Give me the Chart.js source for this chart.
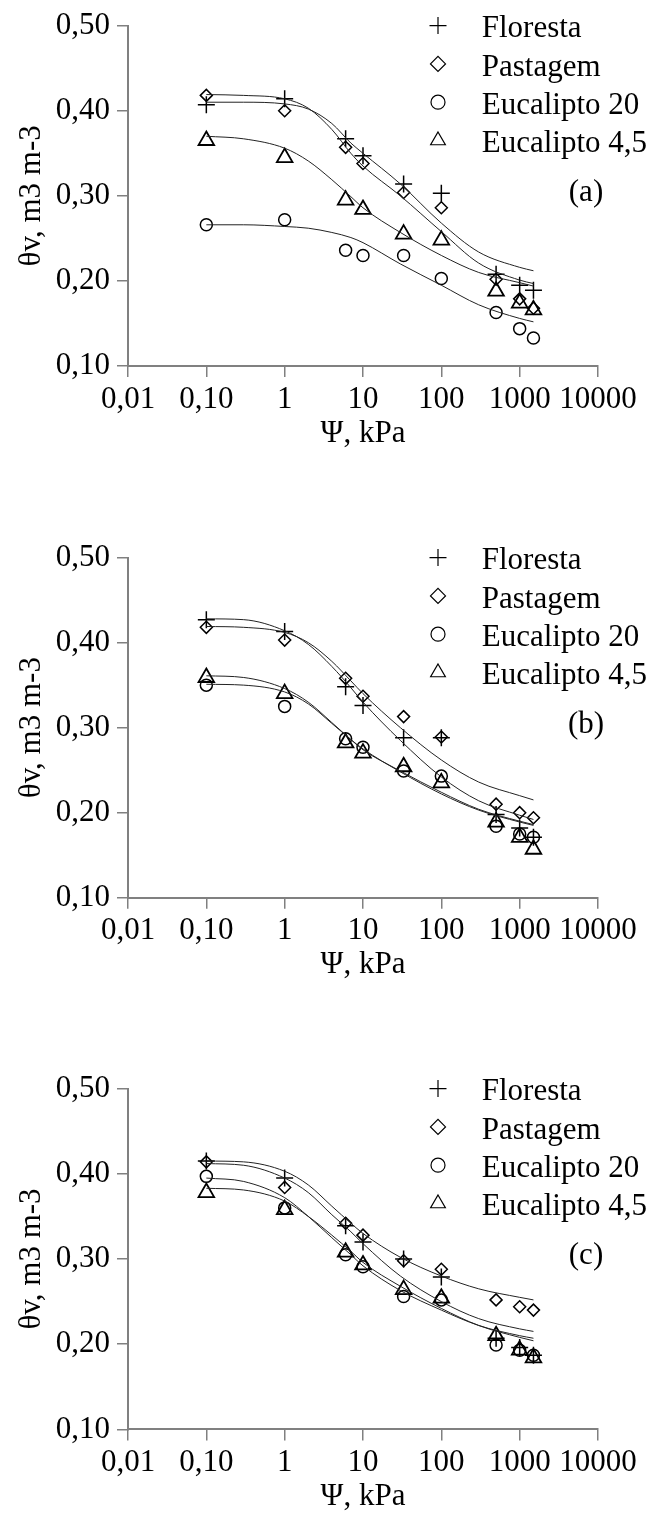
<!DOCTYPE html>
<html>
<head>
<meta charset="utf-8">
<script src="https://cdn.jsdelivr.net/npm/chart.js@4.4.1/dist/chart.umd.min.js"></script>
<style>
  html, body { margin: 0; padding: 0; background: #fff; }
  #wrap { position: relative; width: 655px; height: 1517px; overflow: hidden; }
  canvas { position: absolute; left: 0; }
</style>
</head>
<body>
<div id="wrap">
  <canvas id="chartA" width="655" height="532" style="top:0px"></canvas>
  <canvas id="chartB" width="655" height="532" style="top:532px"></canvas>
  <canvas id="chartC" width="655" height="454" style="top:1063px"></canvas>
</div>
<script>
const psi = [0.1, 1, 6, 10, 33, 100, 500, 1000, 1500];
const fitPsi = [0.1, 0.3, 1, 2, 4, 7, 10, 30, 100, 300, 1000, 1500];

const seriesNames = ['Floresta', 'Pastagem', 'Eucalipto 20', 'Eucalipto 4,5'];
const xTicks = [0.01, 0.1, 1, 10, 100, 1000, 10000];
const xTickLabels = ['0,01', '0,10', '1', '10', '100', '1000', '10000'];
const yTicks = [0.1, 0.2, 0.3, 0.4, 0.5];
const yTickLabels = ['0,10', '0,20', '0,30', '0,40', '0,50'];

// (a)
const florestaA = [0.407, 0.414, 0.367, 0.347, 0.314, 0.303, 0.208, 0.195, 0.189];
const pastagemA = [0.418, 0.400, 0.357, 0.338, 0.304, 0.286, 0.202, 0.179, 0.168];
const euc20A = [0.266, 0.272, 0.236, 0.230, 0.230, 0.203, 0.163, 0.144, 0.133];
const euc45A = [0.365, 0.345, 0.295, 0.284, 0.255, 0.248, 0.188, 0.174, 0.166];
const fitFlorestaA = [0.410, 0.410, 0.408, 0.402, 0.385, 0.362, 0.350, 0.314, 0.268, 0.234, 0.216, 0.212];
const fitPastagemA = [0.419, 0.418, 0.414, 0.403, 0.378, 0.350, 0.335, 0.300, 0.258, 0.221, 0.201, 0.197];
const fitEuc20A = [0.266, 0.266, 0.264, 0.262, 0.257, 0.251, 0.245, 0.220, 0.195, 0.172, 0.156, 0.152];
const fitEuc45A = [0.370, 0.367, 0.356, 0.341, 0.319, 0.299, 0.286, 0.257, 0.230, 0.210, 0.198, 0.194];

// (b)
const florestaB = [0.427, 0.413, 0.348, 0.326, 0.288, 0.288, 0.198, 0.182, 0.171];
const pastagemB = [0.418, 0.403, 0.358, 0.337, 0.313, 0.289, 0.210, 0.200, 0.194];
const euc20B = [0.350, 0.325, 0.287, 0.277, 0.249, 0.243, 0.184, 0.175, 0.171];
const euc45B = [0.359, 0.340, 0.282, 0.270, 0.254, 0.235, 0.189, 0.171, 0.157];
const fitFlorestaB = [0.428, 0.427, 0.414, 0.398, 0.372, 0.347, 0.330, 0.285, 0.242, 0.214, 0.197, 0.192];
const fitPastagemB = [0.419, 0.418, 0.412, 0.400, 0.378, 0.355, 0.340, 0.300, 0.262, 0.236, 0.220, 0.215];
const fitEuc20B = [0.351, 0.350, 0.342, 0.328, 0.305, 0.286, 0.275, 0.248, 0.222, 0.203, 0.189, 0.185];
const fitEuc45B = [0.361, 0.359, 0.346, 0.330, 0.306, 0.286, 0.274, 0.249, 0.224, 0.204, 0.190, 0.186];

// (c)
const florestaC = [0.415, 0.395, 0.339, 0.320, 0.300, 0.279, 0.207, 0.196, 0.187];
const pastagemC = [0.414, 0.384, 0.342, 0.328, 0.298, 0.288, 0.252, 0.244, 0.240];
const euc20C = [0.397, 0.360, 0.305, 0.291, 0.256, 0.252, 0.199, 0.193, 0.187];
const euc45C = [0.378, 0.358, 0.308, 0.293, 0.264, 0.254, 0.210, 0.193, 0.184];
const fitFlorestaC = [0.412, 0.410, 0.395, 0.378, 0.352, 0.332, 0.318, 0.280, 0.250, 0.230, 0.218, 0.215];
const fitPastagemC = [0.415, 0.414, 0.403, 0.387, 0.362, 0.342, 0.330, 0.302, 0.280, 0.265, 0.255, 0.252];
const fitEuc20C = [0.395, 0.391, 0.372, 0.350, 0.325, 0.305, 0.292, 0.263, 0.240, 0.222, 0.210, 0.207];
const fitEuc45C = [0.383, 0.381, 0.368, 0.350, 0.328, 0.309, 0.296, 0.268, 0.242, 0.222, 0.208, 0.204];

const FONT = '"Liberation Serif", "Times New Roman", serif';
const markers = [
    { style: 'cross', r: 8.5, w: 1.5, legR: 8.5 },
    { style: 'rectRot', r: 6, w: 1.5, legR: 7.5 },
    { style: 'circle', r: 6, w: 1.5, legR: 7 },
    { style: 'triangle', r: 9, w: 1.8, legR: 8.5 }
];

const markerLegend = {
    id: 'markerLegend',
    afterDraw(chart, args, opts) {
        const ctx = chart.ctx;
        const top = chart.chartArea.top;
        ctx.save();
        seriesNames.forEach((name, i) => {
            const y = top + i * 38.3;
            ctx.strokeStyle = '#000';
            ctx.fillStyle = 'rgba(0,0,0,0)';
            ctx.lineWidth = 1.2;
            Chart.helpers.drawPoint(ctx, {
                pointStyle: markers[i].style, radius: markers[i].legR, borderWidth: 1.2, rotation: 0
            }, 438, y);
            ctx.fillStyle = '#000';
            ctx.font = '31px ' + FONT;
            ctx.textAlign = 'left';
            ctx.textBaseline = 'alphabetic';
            ctx.fillText(name, 481.7, y + 11.6);
        });
        ctx.textAlign = 'center';
        ctx.fillText(opts.letter, 586, top + 175.3);
        ctx.restore();
    }
};

function toPoints(xs, ys) {
    return xs.map((x, i) => ({ x: x, y: ys[i] }));
}

function renderPanel(canvasId, padTop, letter, pts, fits) {
    const canvas = document.getElementById(canvasId);
    const H = canvas.height;
    const plotH = 344.4;

    const datasets = [];
    fits.forEach(f => {
        datasets.push({
            data: toPoints(fitPsi, f),
            showLine: true,
            borderColor: '#222',
            borderWidth: 1,
            pointRadius: 0,
            cubicInterpolationMode: 'monotone',
            fill: false
        });
    });
    pts.forEach((p, i) => {
        datasets.push({
            label: seriesNames[i],
            data: toPoints(psi, p),
            showLine: false,
            pointStyle: markers[i].style,
            pointRadius: markers[i].r,
            pointBorderWidth: markers[i].w,
            borderColor: '#000',
            backgroundColor: 'rgba(0,0,0,0)'
        });
    });

    return new Chart(canvas.getContext('2d'), {
        type: 'scatter',
        data: { datasets: datasets },
        options: {
            responsive: false,
            animation: false,
            devicePixelRatio: 1,
            layout: { padding: { top: padTop, right: 57, left: 0, bottom: 0 } },
            plugins: {
                legend: { display: false },
                tooltip: { enabled: false },
                markerLegend: { letter: letter }
            },
            scales: {
                x: {
                    type: 'logarithmic',
                    min: 0.01,
                    max: 10000,
                    afterBuildTicks: s => { s.ticks = xTicks.map(v => ({ value: v })); },
                    afterFit: s => { s.height = H - padTop - plotH; },
                    ticks: {
                        autoSkip: false,
                        maxRotation: 0,
                        padding: 4,
                        color: '#000',
                        font: { family: FONT, size: 31 },
                        callback: v => xTickLabels[xTicks.indexOf(v)]
                    },
                    grid: { drawOnChartArea: false, drawTicks: true, tickLength: 11, color: '#808080', lineWidth: 1.5 },
                    border: { color: '#808080', width: 2 },
                    title: {
                        display: true,
                        text: 'Ψ, kPa',
                        color: '#000',
                        font: { family: FONT, size: 31 },
                        padding: { top: 0, bottom: H - padTop - plotH - 86 }
                    }
                },
                y: {
                    min: 0.1,
                    max: 0.5,
                    afterBuildTicks: s => { s.ticks = yTicks.map(v => ({ value: v })); },
                    afterFit: s => { s.width = 128; },
                    ticks: {
                        padding: 7,
                        color: '#000',
                        font: { family: FONT, size: 31 },
                        callback: v => yTickLabels[yTicks.findIndex(t => Math.abs(t - v) < 1e-9)]
                    },
                    grid: { drawOnChartArea: false, drawTicks: true, tickLength: 11, color: '#808080', lineWidth: 1.5 },
                    border: { color: '#808080', width: 2 },
                    title: {
                        display: true,
                        text: 'θv, m3 m-3',
                        color: '#000',
                        font: { family: FONT, size: 31 },
                        padding: { top: 13, bottom: 0 }
                    }
                }
            }
        },
        plugins: [markerLegend]
    });
}

renderPanel('chartA', 21.7, '(a)',
    [florestaA, pastagemA, euc20A, euc45A],
    [fitFlorestaA, fitPastagemA, fitEuc20A, fitEuc45A]);
renderPanel('chartB', 21.3, '(b)',
    [florestaB, pastagemB, euc20B, euc45B],
    [fitFlorestaB, fitPastagemB, fitEuc20B, fitEuc45B]);
renderPanel('chartC', 22, '(c)',
    [florestaC, pastagemC, euc20C, euc45C],
    [fitFlorestaC, fitPastagemC, fitEuc20C, fitEuc45C]);
</script>
</body>
</html>
